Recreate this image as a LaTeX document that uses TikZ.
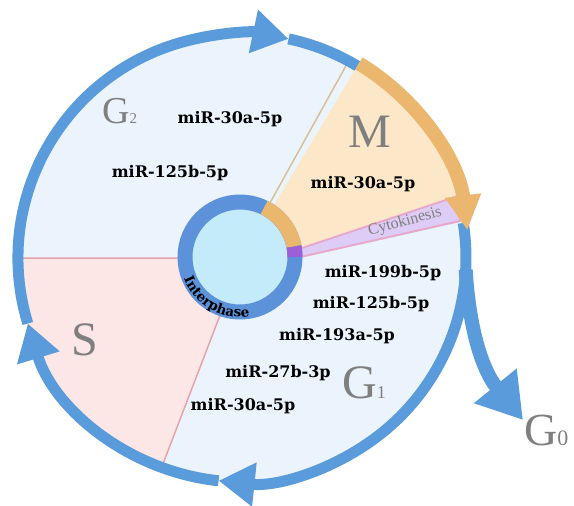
\documentclass[tikz,border=0pt]{standalone}
\usepackage{fontspec}
\newfontfamily\mirfont{DejaVu Serif}
\newfontfamily\phasefont{Liberation Serif}
\usepackage{tikz}
\usetikzlibrary{arrows.meta,decorations.text}
\definecolor{cycblue}{HTML}{5A9BDC}
\definecolor{cycdisc}{HTML}{EBF4FC}
\definecolor{cycpink}{HTML}{FCE6E6}
\definecolor{cycpinkline}{HTML}{E7A3AB}
\definecolor{cycsand}{HTML}{FCE8C9}
\definecolor{cycsandline}{HTML}{D8BF96}
\definecolor{cycorange}{HTML}{EBB76E}
\definecolor{cyclilac}{HTML}{DDCDF6}
\definecolor{cycrose}{HTML}{E8A8CB}
\definecolor{cycpurple}{HTML}{9D5FD8}
\definecolor{cycinner}{HTML}{5C92DA}
\definecolor{cyccore}{HTML}{C4EBFA}
\definecolor{cycgray}{HTML}{7F7F7F}
\tikzset{
  ring/.style={draw=cycblue,line width=11pt},
  ringarr/.style={ring,-{Triangle[length=36pt,width=42pt]}},
  phase/.style={text=cycgray,inner sep=0pt,font=\phasefont\fontsize{48}{48}\selectfont},
  mirna/.style={inner sep=0pt,anchor=base,font=\mirfont\bfseries\fontsize{16}{16}\selectfont},
}
\begin{document}
\begin{tikzpicture}[x=1pt,y=-1pt]
  \useasboundingbox (0,0) rectangle (574,506);
  \coordinate (oc) at (242,258);
  \coordinate (ic) at (240,257);
  % disc and sectors
  \fill[cycdisc] (oc) circle[radius=224];
  \fill[cycpink] (oc) -- ++(111:224) arc[start angle=111,end angle=180,radius=224] -- cycle;
  \draw[cycpinkline,line width=1.5pt] (oc) ++(111:224) -- (oc) -- ++(180:224);
  \coordinate (ck1) at (296,250); \coordinate (ck2) at (458,196);
  \coordinate (ck3) at (460,221); \coordinate (ck4) at (296,258);
  \fill[cycsand] (oc) -- ++(-59:224) arc[start angle=-59,end angle=-15.6,radius=224] -- (ck1) -- cycle;
  \draw[cycsandline,line width=1.5pt] (ic) -- ++(-61:224);
  \filldraw[fill=cyclilac,draw=cycrose,line width=2pt] (ck1) -- (ck2) -- (ck3) -- (ck4) -- cycle;
  % outer cycle
  \draw[ringarr] (oc) ++(-9:224) arc[start angle=-9,end angle=96,radius=224];
  \draw[ringarr] (oc) ++(96:224) arc[start angle=96,end angle=163,radius=224];
  \draw[ringarr] (oc) ++(163:224) arc[start angle=163,end angle=282,radius=224];
  \draw[ring] (oc) ++(282:224) arc[start angle=282,end angle=301,radius=224];
  \draw[cycorange,line width=14pt,-{Triangle[length=35pt,width=34pt]}] (oc) ++(-59:227) arc[start angle=-59,end angle=-7,radius=227];
  % exit to G0
  \path (oc) ++(3:224) coordinate (g0out);
  \coordinate (g0tip) at (523,420);
  \draw[ring,line width=14pt,-{Triangle[length=44pt,width=52pt]}] (g0out) .. controls +(3,52) and (480,367) .. (g0tip);
  % interphase ring
  \fill[cyccore] (ic) circle[radius=50];
  \draw[cycinner,line width=15pt] (ic) circle[radius=55];
  \draw[cycorange,line width=15pt] (ic) ++(-64:55) arc[start angle=-64,end angle=-11,radius=55];
  \draw[cycpurple,line width=15pt] (ic) ++(-11:55) arc[start angle=-11,end angle=0,radius=55];
  \path[decorate,decoration={text along path,text align=center,
    text={|\mirfont\bfseries\fontsize{13.5}{13.5}\selectfont|Interphase}}]
    (ic) ++(172:60) arc[start angle=172,end angle=68,radius=60];
  % phase names
  \node[phase,font=\phasefont\fontsize{38}{38}\selectfont,anchor=base west] (g2) at (102,123) {G\fontsize{15}{15}\selectfont 2};
  \node[phase,anchor=base] (mph) at (370,147) {M};
  \node[phase,anchor=base] (sph) at (85,355) {S};
  \node[phase,anchor=base west] (g1) at (342,398) {G\fontsize{18}{18}\selectfont 1};
  \node[phase,font=\phasefont\fontsize{46}{46}\selectfont,anchor=base west] (g0) at (524,445) {G\fontsize{22}{22}\selectfont 0};
  \node[text=cycgray,rotate=15.6,inner sep=0pt,font=\phasefont\fontsize{16}{16}\selectfont] (cyto) at (405,222) {Cytokinesis};
  % miRNAs
  \foreach \nm/\x/\y/\lab in {g2a/230/123/miR-30a-5p, g2b/170/177/miR-125b-5p,
      ma/363/188/miR-30a-5p, g1a/383/277/miR-199b-5p, g1b/371/308/miR-125b-5p,
      g1c/337/340/miR-193a-5p, g1d/278/377/miR-27b-3p, g1e/243/410/miR-30a-5p}
    \node[mirna] (\nm) at (\x,\y) {\lab};
\end{tikzpicture}
\end{document}
